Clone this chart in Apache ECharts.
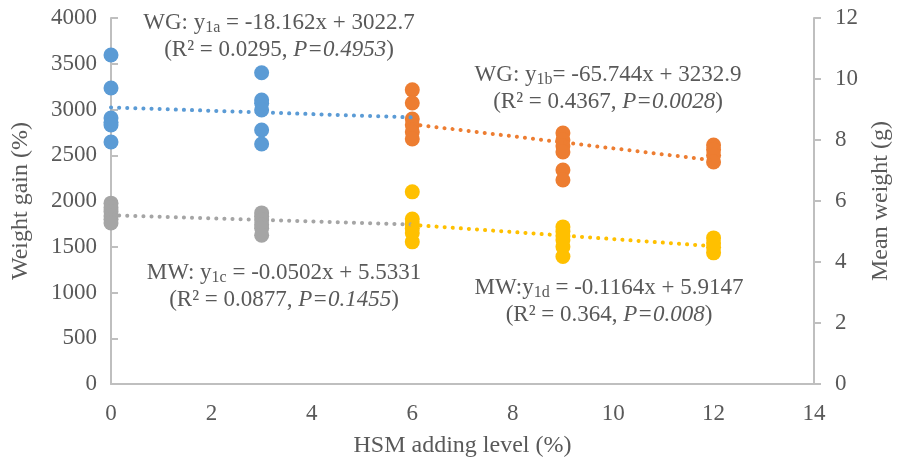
<!DOCTYPE html>
<html>
<head>
<meta charset="utf-8">
<script src="https://cdn.jsdelivr.net/npm/echarts@6/dist/echarts.min.js"></script>
<style>
  html, body { margin: 0; padding: 0; background: #fff; }
  #chart { width: 900px; height: 468px; }
</style>
</head>
<body>
<div id="chart"></div>
<script>
  // HSM adding levels
  var levelsA = [0, 3, 6]
  var levelsB = [6, 9, 12]

  // weight gain (%) points
  var wg0 = [3596, 3235, 2907, 2860, 2831, 2645]
  var wg3 = [3402, 3104, 3068, 2995, 2776, 2623]
  var wg6 = [3215, 3071, 2896, 2831, 2754, 2677]
  var wg9 = [2743, 2667, 2600, 2535, 2339, 2230]
  var wg12 = [2612, 2560, 2500, 2426]

  // mean weight (g) points
  var mw0 = [5.93, 5.78, 5.65, 5.51, 5.40, 5.28]
  var mw3 = [5.61, 5.50, 5.38, 5.22, 5.11, 4.88]
  var mw6 = [6.30, 5.41, 5.25, 5.10, 4.95, 4.66]
  var mw9 = [5.15, 5.00, 4.85, 4.72, 4.50, 4.18]
  var mw12 = [4.79, 4.62, 4.48, 4.30]

  // regression coefficients shown on the chart [slope, intercept]
  var fit1a = [-18.162, 3022.7]
  var fit1b = [-65.744, 3232.9]
  var fit1c = [-0.0502, 5.5331]
  var fit1d = [-0.1164, 5.9147]

  var xTicks = [0, 2, 4, 6, 8, 10, 12, 14]

  var FONT = '"Liberation Serif", "Times New Roman", serif'
  var TXT = '#595959'
  var AXIS = '#bfbfbf'

  function pts(x, arr) {
    return arr.map(function (v) { return [x, v] })
  }
  function fitLine(c, xs) {
    return [xs[0], xs[xs.length - 1]].map(function (x) { return [x, c[0] * x + c[1]] })
  }

  function scatter(name, data, color, yIdx) {
    return {
      name: name,
      type: 'scatter',
      yAxisIndex: yIdx,
      symbolSize: 15,
      itemStyle: { color: color, opacity: 1 },
      data: data,
      z: 2
    }
  }
  function trend(name, data, color, yIdx) {
    return {
      name: name,
      type: 'line',
      yAxisIndex: yIdx,
      showSymbol: false,
      lineStyle: { color: color, width: 4, type: [0.1, 8], cap: 'round' },
      data: data,
      z: 3
    }
  }

  var rich = {
    a: { fontFamily: FONT, fontSize: 23, color: TXT, lineHeight: 27 },
    s: { fontFamily: FONT, fontSize: 16, color: TXT, verticalAlign: 'bottom', lineHeight: 16 },
    i: { fontFamily: FONT, fontSize: 23, color: TXT, fontStyle: 'italic', lineHeight: 27 }
  }
  function note(x, y, text) {
    return {
      type: 'text',
      x: x, y: y,
      style: { text: text, rich: rich, align: 'center', verticalAlign: 'top', fill: TXT, font: '23px ' + FONT }
    }
  }

  var chart = echarts.init(document.getElementById('chart'))
  chart.setOption({
    animation: false,
    grid: { left: 111, right: 86, top: 18, bottom: 84, outerBoundsMode: 'none' },
    xAxis: {
      type: 'value',
      min: 0, max: 14, interval: 2,
      name: 'HSM adding level (%)',
      nameLocation: 'middle',
      nameGap: 50,
      nameTextStyle: { fontFamily: FONT, fontSize: 24, color: TXT },
      axisLine: { show: true, lineStyle: { color: AXIS, width: 2 } },
      axisTick: { show: false },
      splitLine: { show: false },
      axisLabel: {
        fontFamily: FONT, fontSize: 23, color: TXT, margin: 18,
        formatter: function (v) { return xTicks.indexOf(v) > -1 ? String(v) : '' }
      }
    },
    yAxis: [
      {
        type: 'value',
        min: 0, max: 4000, interval: 500,
        name: 'Weight gain (%)',
        nameLocation: 'middle',
        nameGap: 78,
        nameTextStyle: { fontFamily: FONT, fontSize: 24, color: TXT },
        axisLine: { show: true, lineStyle: { color: AXIS, width: 2 } },
        axisTick: { show: true, inside: true, length: 7, lineStyle: { color: AXIS, width: 2 } },
        splitLine: { show: false },
        axisLabel: {
          fontFamily: FONT, fontSize: 23, color: TXT, margin: 14,
          formatter: function (v) { return String(v) }
        }
      },
      {
        type: 'value',
        min: 0, max: 12, interval: 2,
        name: 'Mean weight (g)',
        nameLocation: 'middle',
        nameGap: 55,
        nameTextStyle: { fontFamily: FONT, fontSize: 24, color: TXT },
        axisLine: { show: true, lineStyle: { color: AXIS, width: 2 } },
        axisTick: { show: true, inside: false, length: 7, lineStyle: { color: AXIS, width: 2 } },
        splitLine: { show: false },
        axisLabel: { fontFamily: FONT, fontSize: 23, color: TXT, margin: 21 }
      }
    ],
    series: [
      scatter('WG 0', pts(0, wg0), '#5b9bd5', 0),
      scatter('WG 3', pts(3, wg3), '#5b9bd5', 0),
      scatter('WG 6', pts(6, wg6), '#ed7d31', 0),
      scatter('WG 9', pts(9, wg9), '#ed7d31', 0),
      scatter('WG 12', pts(12, wg12), '#ed7d31', 0),
      scatter('MW 0', pts(0, mw0), '#a5a5a5', 1),
      scatter('MW 3', pts(3, mw3), '#a5a5a5', 1),
      scatter('MW 6', pts(6, mw6), '#ffc000', 1),
      scatter('MW 9', pts(9, mw9), '#ffc000', 1),
      scatter('MW 12', pts(12, mw12), '#ffc000', 1),
      trend('y1a', fitLine(fit1a, levelsA), '#5b9bd5', 0),
      trend('y1b', fitLine(fit1b, levelsB), '#ed7d31', 0),
      trend('y1c', fitLine(fit1c, levelsA), '#a5a5a5', 1),
      trend('y1d', fitLine(fit1d, levelsB), '#ffc000', 1)
    ],
    graphic: [
      note(279, 9, '{a|WG: y}{s|1a}{a| = -18.162x + 3022.7}\n{a|(R² = 0.0295, }{i|P=0.4953}{a|)}'),
      note(608, 61, '{a|WG: y}{s|1b}{a|= -65.744x + 3232.9}\n{a|(R² = 0.4367, }{i|P=0.0028}{a|)}'),
      note(284, 259, '{a|MW: y}{s|1c}{a| = -0.0502x + 5.5331}\n{a|(R² = 0.0877, }{i|P=0.1455}{a|)}'),
      note(609, 274, '{a|MW:y}{s|1d}{a| = -0.1164x + 5.9147}\n{a|(R² = 0.364, }{i|P=0.008}{a|)}')
    ]
  })
</script>
</body>
</html>
